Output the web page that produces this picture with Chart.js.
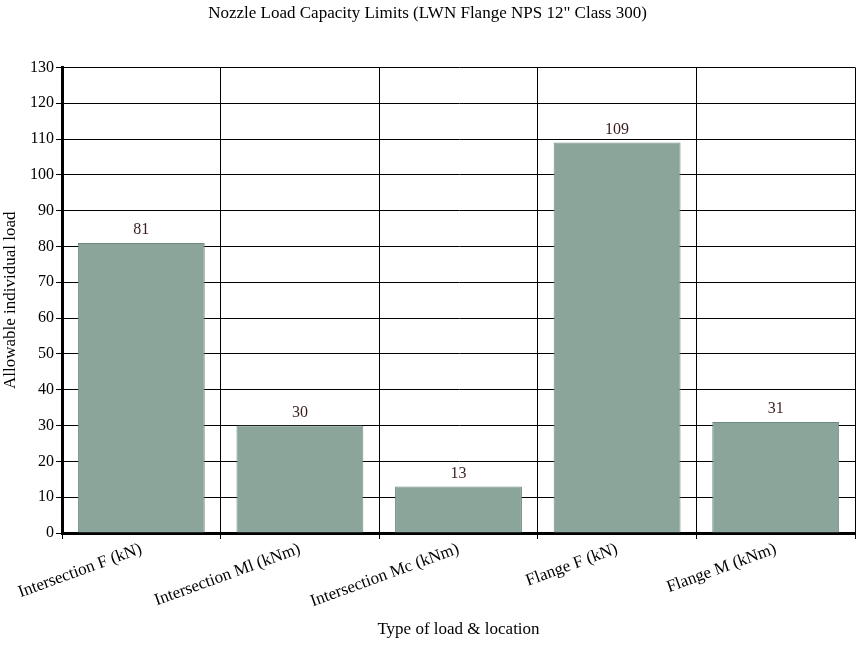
<!DOCTYPE html>
<html><head><meta charset="utf-8">
<script src="https://cdn.jsdelivr.net/npm/chart.js@4"></script>
<style>body{margin:0;background:#fff}</style>
</head><body>
<canvas id="c" width="856" height="648"></canvas>
<script>
const categories = ["Intersection F (kN)", "Intersection Ml (kNm)", "Intersection Mc (kNm)", "Flange F (kN)", "Flange M (kNm)"];
const values = [81, 30, 13, 109, 31];

const labelPlugin = {
  id: 'vals',
  afterDatasetsDraw(chart) {
    const ctx = chart.ctx;
    const meta = chart.getDatasetMeta(0);
    ctx.save();
    ctx.font = '16px "Liberation Serif"';
    ctx.textAlign = 'center';
    ctx.textBaseline = 'middle';
    meta.data.forEach((bar, i) => {
      const t = String(values[i]);
      const w = ctx.measureText(t).width + 6;
      const y = bar.y - 13;
      ctx.fillStyle = '#fff';
      ctx.fillRect(bar.x - w / 2, y - 9, w, 18);
      ctx.fillStyle = '#3a1e1e';
      ctx.fillText(t, bar.x, y);
    });
    ctx.restore();
  }
};

new Chart(document.getElementById('c'), {
  type: 'bar',
  data: { labels: categories, datasets: [{ data: values, backgroundColor: '#8ca59b', borderColor: '#6f8a7e', borderWidth: 1, categoryPercentage: 0.8, barPercentage: 1 }] },
  options: {
    responsive: false, animation: false,
    layout: { padding: { top: 0, right: 1, left: 0, bottom: 0 } },
    plugins: {
      legend: { display: false }, tooltip: { enabled: false },
      title: { display: true, text: 'Nozzle Load Capacity Limits (LWN Flange NPS 12" Class 300)', color: '#000', font: { family: 'Liberation Serif', size: 17, weight: 'normal' }, padding: { top: 3, bottom: 44 } }
    },
    scales: {
      x: {
        grid: { offset: true, color: '#000', lineWidth: 1, tickLength: 6 },
        border: { color: '#000', width: 3 },
        ticks: { color: '#000', font: { family: 'Liberation Serif', size: 17 }, maxRotation: 20, minRotation: 20, padding: 0 },
        title: { display: true, text: 'Type of load & location', color: '#000', font: { family: 'Liberation Serif', size: 17 }, padding: { top: 4, bottom: 8 } },
        afterFit(s) { s.height = 115; }
      },
      y: {
        min: 0, max: 130,
        grid: { color: '#000', lineWidth: 1, tickLength: 6 },
        border: { color: '#000', width: 3 },
        ticks: { stepSize: 10, color: '#000', font: { family: 'Liberation Serif', size: 16 }, padding: 2 },
        title: { display: true, text: 'Allowable individual load', color: '#000', font: { family: 'Liberation Serif', size: 17 }, padding: 0 },
        afterFit(s) { s.width = 62; }
      }
    }
  },
  plugins: [labelPlugin]
});
</script>
</body></html>
